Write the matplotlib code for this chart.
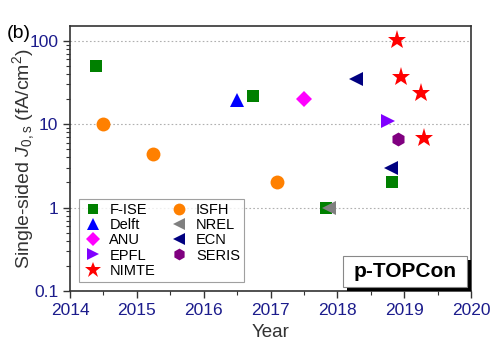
import numpy as np
import matplotlib
matplotlib.use("Agg")
from matplotlib import pyplot as plt
from matplotlib.patches import Rectangle

plt.rcParams['font.family'] = ['Liberation Sans', 'DejaVu Sans']
plt.rcParams['mathtext.fontset'] = 'custom'
plt.rcParams['mathtext.rm'] = 'Liberation Sans'
plt.rcParams['mathtext.it'] = 'Liberation Sans:italic'

# J0,s values per lab: (year, fA/cm^2)
fise_x = [2014.39, 2016.74, 2018.82, 2017.83]
fise_y = [50, 22, 2.0, 1.0]
delft_x = [2016.5]
delft_y = [19.5]
anu_x = [2017.5]
anu_y = [20]
epfl_x = [2018.76]
epfl_y = [11]
nimte_x = [2018.9, 2018.95, 2019.25, 2019.29]
nimte_y = [103, 37, 23.5, 6.8]
isfh_x = [2014.5, 2015.24, 2017.1]
isfh_y = [10, 4.4, 2.0]
nrel_x = [2017.87]
nrel_y = [1.0]
ecn_x = [2018.28, 2018.8]
ecn_y = [35, 3.0]
seris_x = [2018.91]
seris_y = [6.6]

series = [
    ("F-ISE", fise_x, fise_y, 's', 'green', 8),
    ("Delft", delft_x, delft_y, '^', 'blue', 10),
    ("ANU", anu_x, anu_y, 'D', 'magenta', 8),
    ("EPFL", epfl_x, epfl_y, '>', '#8000ff', 10),
    ("NIMTE", nimte_x, nimte_y, '*', 'red', 14),
    ("ISFH", isfh_x, isfh_y, 'o', '#ff8000', 10),
    ("NREL", nrel_x, nrel_y, '<', 'gray', 10),
    ("ECN", ecn_x, ecn_y, '<', '#000080', 10),
    ("SERIS", seris_x, seris_y, 'h', 'purple', 10),
]

tick_color = '#1c1c8c'

fig = plt.figure(figsize=(5, 3.49), dpi=100)
ax = fig.add_axes([0.14, 0.166, 0.802, 0.7595])

for name, xs, ys, m, c, s in series:
    ax.plot(xs, ys, linestyle='none', marker=m, color=c, markersize=s,
            markeredgewidth=0, label=name, zorder=3)

ax.set_yscale('log')
ax.set_xlim(2014, 2020)
ax.set_ylim(0.1, 150)
ax.set_xticks(np.arange(2014, 2021, 1))
ax.set_xticks(np.arange(2014.5, 2020, 1), minor=True)
ax.set_yticks([0.1, 1, 10, 100])
ax.set_yticklabels(['0.1', '1', '10', '100'])
ax.yaxis.grid(True, which='major', linestyle=(0, (1.5, 2)), color='#b0b0b0', linewidth=0.8)
ax.set_axisbelow(True)

ax.tick_params(which='both', direction='out', colors='#333333', labelcolor=tick_color,
               labelsize=12.5, top=False, right=False)
ax.tick_params(which='major', length=5, width=1)
ax.tick_params(which='minor', length=3, width=0.8)
ax.tick_params(axis='y', which='minor', labelleft=False)
for sp in ax.spines.values():
    sp.set_color('#333333')
    sp.set_linewidth(1.2)

ax.set_xlabel('Year', fontsize=13.5, color='#333333', va='center')
ax.xaxis.set_label_coords(0.5, -0.155)
ax.set_ylabel(r'Single-sided $J_{0,\mathrm{s}}$ (fA/cm$^2$)', fontsize=14,
              color='#333333', va='center')
ax.yaxis.set_label_coords(-0.115, 0.5)

fig.text(0.014, 0.905, '(b)', fontsize=14, color='black', va='center')

leg = ax.legend(ncol=2, loc='lower left', bbox_to_anchor=(0.022, 0.034), fontsize=10.5,
                frameon=True, fancybox=False, edgecolor='#888888', handletextpad=0.5,
                columnspacing=1.0, labelspacing=0.08, borderpad=0.3, handlelength=1.3,
                borderaxespad=0, markerscale=0.85)
leg.get_frame().set_linewidth(0.8)

# label box with a black drop shadow in the lower right corner
ax.add_patch(Rectangle((0.691, 0.0), 0.309, 0.117, transform=ax.transAxes,
                       facecolor='black', edgecolor='none', zorder=5))
ax.add_patch(Rectangle((0.681, 0.016), 0.309, 0.117, transform=ax.transAxes,
                       facecolor='white', edgecolor='#888888', linewidth=0.8, zorder=6))
ax.text(0.8355, 0.0745, 'p-TOPCon', transform=ax.transAxes, ha='center', va='center',
        fontsize=15, fontweight='bold', color='black', zorder=7)

fig.savefig('out.png', dpi=100)
